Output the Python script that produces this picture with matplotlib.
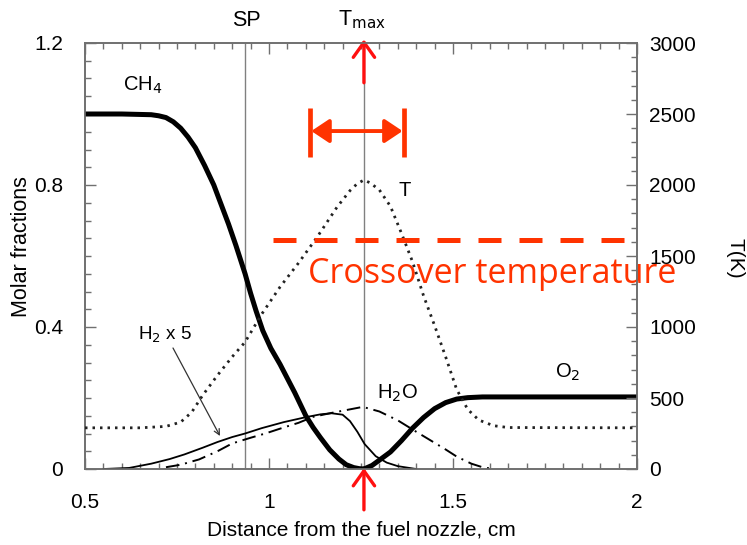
import matplotlib
matplotlib.use("Agg")
import matplotlib.pyplot as plt
from matplotlib.ticker import MultipleLocator, FixedLocator

# ---------------- data ----------------
ch4_x = [0.50, 0.60, 0.68, 0.70, 0.72, 0.74, 0.76, 0.78, 0.80, 0.825, 0.85, 0.87, 0.89, 0.91, 0.935, 0.95,
         0.965, 0.983, 1.005, 1.03, 1.05, 1.07, 1.10, 1.12, 1.14, 1.165, 1.19, 1.21, 1.23, 1.245, 1.258]
ch4_y = [1.0, 1.0, 0.998, 0.995, 0.99, 0.978, 0.96, 0.935, 0.905, 0.855, 0.80, 0.745, 0.69, 0.63, 0.55, 0.495,
         0.445, 0.39, 0.34, 0.295, 0.255, 0.215, 0.15, 0.117, 0.088, 0.054, 0.028, 0.012, 0.004, 0.001, 0.0]

o2_x = [1.258, 1.28, 1.30, 1.33, 1.36, 1.39, 1.42, 1.45, 1.48, 1.51, 1.54, 1.58, 1.70, 2.00]
o2_y = [0.0, 0.01, 0.025, 0.048, 0.08, 0.115, 0.145, 0.17, 0.187, 0.197, 0.201, 0.203, 0.203, 0.203]

h2_x = [0.55, 0.62, 0.68, 0.73, 0.77, 0.82, 0.86, 0.90, 0.935, 0.98, 1.04, 1.10, 1.14, 1.17, 1.20, 1.22, 1.24, 1.26, 1.29, 1.32, 1.35, 1.40]
h2_y = [0.0, 0.003, 0.015, 0.028, 0.041, 0.06, 0.076, 0.09, 0.10, 0.115, 0.132, 0.146, 0.154, 0.157, 0.153, 0.135, 0.105, 0.07, 0.036, 0.018, 0.008, 0.0]

h2o_x = [0.72, 0.76, 0.81, 0.86, 0.90, 0.95, 0.99, 1.04, 1.08, 1.12, 1.17, 1.21, 1.255, 1.30, 1.35, 1.40, 1.44, 1.48, 1.51, 1.55, 1.58, 1.61]
h2o_y = [0.005, 0.012, 0.027, 0.05, 0.072, 0.088, 0.10, 0.117, 0.13, 0.147, 0.158, 0.166, 0.175, 0.162, 0.137, 0.105, 0.08, 0.055, 0.035, 0.015, 0.005, 0.0]

t_x = [0.50, 0.65, 0.72, 0.76, 0.79, 0.82, 0.86, 0.90, 0.935, 0.98, 1.03, 1.08, 1.13, 1.185, 1.22, 1.24, 1.258,
       1.275, 1.30, 1.33, 1.36, 1.39, 1.42, 1.45, 1.48, 1.51, 1.54, 1.57, 1.61, 1.65, 2.00]
t_k = [290, 290, 300, 330, 400, 520, 660, 790, 894, 1090, 1282, 1450, 1630, 1845, 1960, 2010, 2035,
       2015, 1965, 1850, 1660, 1460, 1220, 1010, 790, 560, 420, 345, 305, 292, 290]

sp_x = 0.935
tmax_x = 1.258
crossover_T = 1613
window_x = [1.111, 1.367]

x_ticks = [0.5, 1, 1.5, 2]
x_ticklabels = ["0.5", "1", "1.5", "2"]
y_ticks = [0, 0.4, 0.8, 1.2]
y_ticklabels = ["0", "0.4", "0.8", "1.2"]
t_ticks = [0, 500, 1000, 1500, 2000, 2500, 3000]

RED = "#ff3300"
ARROW_RED = "#ff1010"
SPINE = "#707070"
FONT = ["Liberation Sans", "DejaVu Sans"]

W, H = 747, 545
fig = plt.figure(figsize=(W / 100, H / 100), dpi=100)
plt.rcParams["font.family"] = FONT

def fx(px):
    return px / W

def fy(py):
    return 1 - py / H

L, R, T, B = 85, 637, 43, 469
ax = fig.add_axes([fx(L), fy(B), (R - L) / W, (B - T) / H])
ax2 = ax.twinx()

ax.set_xlim(0.5, 2.0)
ax.set_ylim(0, 1.2)
ax2.set_ylim(0, 3000)

# vertical reference lines
ax.axvline(sp_x, color="#808080", lw=1.0, zorder=1)
ax.axvline(tmax_x, color="#808080", lw=1.0, zorder=1)

# curves
ax.plot(ch4_x, ch4_y, color="black", lw=3.6, solid_capstyle="round", solid_joinstyle="round", zorder=3)
ax.plot(o2_x, o2_y, color="black", lw=3.6, solid_capstyle="round", solid_joinstyle="round", zorder=3)
ax.plot(h2_x, h2_y, color="black", lw=1.3, zorder=3)
ax.plot(h2o_x, h2o_y, color="black", lw=1.4, linestyle=(0, (7, 3, 1, 3)), zorder=3)
ax2.plot(t_x, t_k, color="#222222", lw=2.0, linestyle=(0, (0.9, 1.8)), zorder=3)

# ticks
for a in (ax, ax2):
    for s in a.spines.values():
        s.set_color(SPINE)
        s.set_linewidth(1.2)

ax.xaxis.set_major_locator(FixedLocator(x_ticks))
ax.set_xticklabels(x_ticklabels)
ax.xaxis.set_minor_locator(MultipleLocator(0.05))
ax.yaxis.set_major_locator(FixedLocator(y_ticks))
ax.set_yticklabels(y_ticklabels)
ax.yaxis.set_minor_locator(MultipleLocator(0.05))
ax.tick_params(which="both", direction="in", top=True, right=False, color=SPINE, width=1.0)
ax.tick_params(which="major", length=8)
ax.tick_params(which="minor", length=4.5)
ax.tick_params(axis="y", which="major", pad=16, labelsize=15)
ax.tick_params(axis="x", which="major", pad=17, labelsize=15)

ax2.yaxis.set_major_locator(FixedLocator(t_ticks))
ax2.yaxis.set_minor_locator(MultipleLocator(100))
ax2.tick_params(which="both", direction="in", color=SPINE, width=1.0)
ax2.tick_params(which="major", length=8, pad=9, labelsize=15)
ax2.tick_params(which="minor", length=4.5)

# axis labels
fig.text(fx(22), fy(247), "Molar fractions", rotation=90, ha="center", va="center", fontsize=15.5)
fig.text(fx(735), fy(258), "T(K)", rotation=-90, ha="center", va="center", fontsize=15)
fig.text(fx(361), fy(530), "Distance from the fuel nozzle, cm", ha="center", va="center", fontsize=15)

# curve labels
fig.text(fx(123), fy(85), r"CH$_4$", ha="left", va="center", fontsize=14.5)
fig.text(fx(138), fy(335), r"H$_2$ x 5", ha="left", va="center", fontsize=13.5)
fig.text(fx(377), fy(393), r"H$_2$O", ha="left", va="center", fontsize=14.5)
fig.text(fx(555), fy(372), r"O$_2$", ha="left", va="center", fontsize=14.5)
fig.text(fx(405), fy(190), "T", ha="center", va="center", fontsize=14.5)
fig.text(fx(246), fy(20), "SP", ha="center", va="center", fontsize=15.5)
fig.text(fx(362), fy(20), r"T$_{\mathrm{max}}$", ha="center", va="center", fontsize=15.5)

# H2 pointer
ax.annotate("", xy=(0.5 + (220 - L) / 368, (B - 436) / 355), xytext=(0.5 + (173 - L) / 368, (B - 348) / 355),
            arrowprops=dict(arrowstyle="->", color="#333333", lw=0.9, shrinkA=0, shrinkB=0,
                            mutation_scale=10))

# ---------------- red annotations ----------------
ax2.plot([1.011, 1.989], [crossover_T, crossover_T], color=RED, lw=3.6,
         linestyle=(0, (4.6, 3.6)), dash_capstyle="butt", zorder=5, clip_on=False)
ax.text(1.106, 0.524, "Crossover temperature", color=RED, fontsize=24.5, family=["Open Sans", "DejaVu Sans"],
        ha="left", va="baseline", zorder=6, clip_on=False)

for xb in window_x:
    ax.plot([xb, xb], [0.879, 1.017], color=RED, lw=3.4, solid_capstyle="butt", zorder=6)
ax.annotate("", xy=(window_x[1] - 0.004, 0.952), xytext=(window_x[0] + 0.004, 0.952),
            arrowprops=dict(arrowstyle="<|-|>,head_length=0.45,head_width=0.3", color=RED, lw=2.8,
                            shrinkA=0, shrinkB=0, mutation_scale=24))

ax.annotate("", xy=(tmax_x, 1.21), xytext=(tmax_x, 1.088), annotation_clip=False,
            arrowprops=dict(arrowstyle="->,head_length=0.45,head_width=0.32", color=ARROW_RED, lw=2.4,
                            shrinkA=0, shrinkB=0, mutation_scale=24))
ax.annotate("", xy=(tmax_x, 0.003), xytext=(tmax_x, -0.115), annotation_clip=False,
            arrowprops=dict(arrowstyle="->,head_length=0.45,head_width=0.32", color=ARROW_RED, lw=2.4,
                            shrinkA=0, shrinkB=0, mutation_scale=24))

fig.savefig("out.png", dpi=100)
